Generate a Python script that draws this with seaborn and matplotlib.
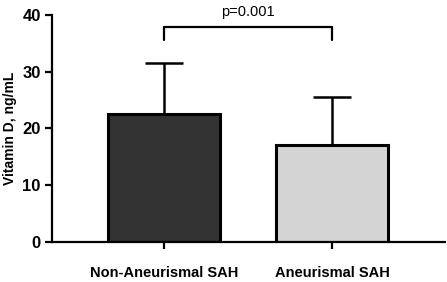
import matplotlib
matplotlib.use("Agg")
import matplotlib.pyplot as plt
import seaborn as sns
import pandas as pd
import numpy as np

groups = ["Non-Aneurismal SAH", "Aneurismal SAH"]
means = [22.5, 17.0]
sds = [9.0, 8.5]
colors = ["#333333", "#d4d4d4"]
p_text = "p=0.001"
yticks = [0, 10, 20, 30, 40]

sns.set_theme(style="ticks")
plt.rcParams['font.family'] = ['Liberation Sans', 'DejaVu Sans']
plt.rcParams['text.color'] = 'black'
plt.rcParams['xtick.color'] = 'black'
plt.rcParams['ytick.color'] = 'black'
plt.rcParams['axes.labelcolor'] = 'black'

fig = plt.figure(figsize=(4.47, 2.82), dpi=100)
ax = fig.add_axes([0.116, 0.142, 0.88, 0.805])

df = pd.DataFrame({"group": groups, "mean": means})
sns.barplot(data=df, x="group", y="mean", hue="group", palette=colors,
            width=0.67, errorbar=None, legend=False, ax=ax,
            edgecolor="black", linewidth=2.2, zorder=2)

x = np.arange(len(groups))
ax.errorbar(x, means, yerr=[np.zeros(len(sds)), sds], fmt="none",
            ecolor="black", elinewidth=1.8, capsize=14, capthick=1.8, zorder=1)

# significance bracket
ax.plot([0, 0, 1, 1], [35.6, 37.9, 37.9, 35.6], color="black", lw=1.6,
        clip_on=False)
ax.text(0.5, 39.3, p_text, ha="center", va="bottom", fontsize=10.5)

ax.set_ylim(0, 40)
ax.set_xlim(-0.667, 1.673)
ax.set_yticks(yticks)
ax.set_xlabel("")
ax.set_ylabel("Vitamin D, ng/mL", fontsize=10, fontweight="bold")
for lab in ax.get_yticklabels():
    lab.set_fontweight("bold")
    lab.set_fontsize(12)
for lab in ax.get_xticklabels():
    lab.set_fontweight("bold")
    lab.set_fontsize(10.5)
ax.tick_params(axis="both", width=1.6, length=5, direction="out", pad=3)
ax.tick_params(axis="x", pad=12)
for s in ["left", "bottom"]:
    ax.spines[s].set_linewidth(1.6)
    ax.spines[s].set_color("black")
sns.despine(ax=ax)

fig.savefig("out.png", dpi=100)
